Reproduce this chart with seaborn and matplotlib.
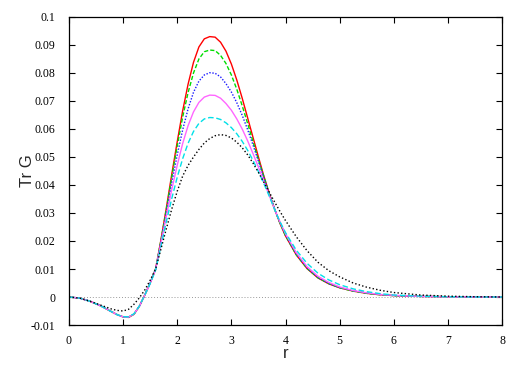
import matplotlib
matplotlib.use("Agg")
import matplotlib.pyplot as plt
import seaborn as sns

# radial grid (finer around the peak)
r = [0, 0.2, 0.4, 0.6, 0.8, 0.9, 1.0, 1.1, 1.2, 1.3, 1.4, 1.5, 1.6,
     1.7, 1.8, 1.9, 2.0, 2.1, 2.2, 2.3, 2.4, 2.5, 2.6, 2.7, 2.8, 2.9, 3.0,
     3.1, 3.2, 3.3, 3.4, 3.5, 3.6, 3.7, 3.8, 3.9, 4.0,
     4.2, 4.4, 4.6, 4.8, 5.0, 5.25, 5.5, 5.75, 6.0, 6.5, 7.0, 7.5, 8.0]

# Tr G values, one list per curve
trg_red = [0, -0.0004, -0.0016, -0.0033, -0.0054, -0.0064, -0.0071, -0.0073, -0.0062, -0.0033, 0.0007, 0.0050, 0.0100,
           0.0205, 0.0320, 0.0440, 0.0555, 0.0665, 0.0760, 0.0838, 0.0893, 0.0922, 0.0930, 0.0928, 0.0910, 0.0878, 0.0832,
           0.0775, 0.0710, 0.0640, 0.0570, 0.0500, 0.0432, 0.0370, 0.0313, 0.0262, 0.0218,
           0.0150, 0.0101, 0.0068, 0.0047, 0.0033, 0.0021, 0.0013, 0.0008, 0.0005, 0.0002, 0.0001, 0.0, 0.0]
trg_green = [0, -0.0004, -0.0016, -0.0033, -0.0054, -0.0064, -0.0071, -0.0072, -0.0061, -0.0033, 0.0007, 0.0050, 0.0100,
             0.0203, 0.0315, 0.0430, 0.0540, 0.0643, 0.0730, 0.0800, 0.0850, 0.0876, 0.0882, 0.0880, 0.0863, 0.0834, 0.0793,
             0.0742, 0.0683, 0.0620, 0.0555, 0.0490, 0.0430, 0.0369, 0.0313, 0.0263, 0.0219,
             0.0151, 0.0102, 0.0069, 0.0048, 0.0033, 0.0021, 0.0013, 0.0008, 0.0005, 0.0002, 0.0001, 0.0, 0.0]
trg_blue = [0, -0.0004, -0.0016, -0.0033, -0.0054, -0.0064, -0.0071, -0.0072, -0.0061, -0.0033, 0.0007, 0.0050, 0.0100,
            0.0200, 0.0305, 0.0410, 0.0508, 0.0597, 0.0672, 0.0731, 0.0771, 0.0793, 0.0801, 0.0799, 0.0786, 0.0762, 0.0732,
            0.0694, 0.0649, 0.0598, 0.0543, 0.0485, 0.0426, 0.0368, 0.0314, 0.0265, 0.0222,
            0.0153, 0.0104, 0.0070, 0.0048, 0.0034, 0.0022, 0.0014, 0.0009, 0.0005, 0.0002, 0.0001, 0.0, 0.0]
trg_magenta = [0, -0.0004, -0.0016, -0.0033, -0.0054, -0.0064, -0.0071, -0.0072, -0.0061, -0.0033, 0.0007, 0.0049, 0.0098,
               0.0193, 0.0290, 0.0385, 0.0471, 0.0548, 0.0612, 0.0661, 0.0695, 0.0714, 0.0721, 0.0720, 0.0710, 0.0691, 0.0667,
               0.0636, 0.0600, 0.0558, 0.0512, 0.0464, 0.0413, 0.0363, 0.0313, 0.0267, 0.0226,
               0.0158, 0.0108, 0.0074, 0.0052, 0.0036, 0.0023, 0.0015, 0.0009, 0.0006, 0.0002, 0.0001, 0.0, 0.0]
trg_cyan = [0, -0.0004, -0.0016, -0.0033, -0.0054, -0.0064, -0.0070, -0.0071, -0.0060, -0.0032, 0.0007, 0.0048, 0.0096,
            0.0183, 0.0270, 0.0353, 0.0428, 0.0494, 0.0549, 0.0591, 0.0620, 0.0636, 0.0641, 0.0640, 0.0634, 0.0622, 0.0605,
            0.0583, 0.0556, 0.0524, 0.0488, 0.0448, 0.0405, 0.0360, 0.0312, 0.0268, 0.0230,
            0.0167, 0.0120, 0.0085, 0.0061, 0.0044, 0.0029, 0.0019, 0.0012, 0.0007, 0.0003, 0.0001, 0.0, 0.0]
trg_black = [0, -0.0004, -0.0016, -0.0030, -0.0044, -0.0048, -0.0050, -0.0044, -0.0026, -0.0003, 0.0025, 0.0060, 0.0100,
             0.0172, 0.0245, 0.0315, 0.0378, 0.0432, 0.0470, 0.0500, 0.0527, 0.0550, 0.0566, 0.0576, 0.0580, 0.0577, 0.0568,
             0.0553, 0.0533, 0.0508, 0.0478, 0.0445, 0.0410, 0.0374, 0.0339, 0.0305, 0.0273,
             0.0215, 0.0165, 0.0124, 0.0094, 0.0072, 0.0050, 0.0035, 0.0024, 0.0016, 0.0007, 0.0003, 0.0001, 0.0]

x_ticks = [0, 1, 2, 3, 4, 5, 6, 7, 8]
y_ticks = [-0.01, 0, 0.01, 0.02, 0.03, 0.04, 0.05, 0.06, 0.07, 0.08, 0.09, 0.1]
y_tick_labels = ['-0.01', '0', '0.01', '0.02', '0.03', '0.04', '0.05', '0.06', '0.07', '0.08', '0.09', '0.1']

sns.set_style('ticks')

fig = plt.figure(figsize=(5.25, 3.68), dpi=100)
ax = fig.add_axes([69 / 525, 1 - 325 / 368, 433 / 525, 308 / 368])

# zero reference line
ax.axhline(0, color='#999999', lw=0.7, linestyle=(0, (1, 2)), zorder=1)

curves = [
    (trg_red, '#ff0000', '-'),
    (trg_green, '#00dd00', (0, (3, 1.5))),
    (trg_blue, '#1a1aff', (0, (1, 1.2))),
    (trg_magenta, '#ff66ff', '-'),
    (trg_cyan, '#00e0e8', (0, (4, 2))),
    (trg_black, '#000000', (0, (1, 1.6))),
]
for vals, col, ls in curves:
    sns.lineplot(x=r, y=vals, color=col, linestyle=ls, lw=1.0, ax=ax)

ax.set_xlim(0, 8)
ax.set_ylim(-0.01, 0.1)
ax.set_xticks(x_ticks)
ax.set_yticks(y_ticks)
ax.set_yticklabels(y_tick_labels)
ax.set_xticklabels([str(t) for t in x_ticks])

for lbl in ax.get_xticklabels() + ax.get_yticklabels():
    lbl.set_fontfamily('Liberation Serif')
    lbl.set_fontsize(8.5)

ax.tick_params(direction='in', length=4, width=0.8, top=True, right=True, colors='black')
ax.tick_params(axis='x', pad=7)
ax.tick_params(axis='y', pad=10)
for sp in ax.spines.values():
    sp.set_visible(True)
    sp.set_linewidth(0.9)
    sp.set_color('black')

ax.set_xlabel('r', fontfamily='Liberation Sans', fontsize=12, va='top')
ax.set_ylabel('Tr G', fontfamily='Liberation Sans', fontsize=12, va='center')
ax.xaxis.set_label_coords(0.5, -0.068)
ax.yaxis.set_label_coords(-0.095, 0.5)

fig.savefig('out.png', dpi=100)
